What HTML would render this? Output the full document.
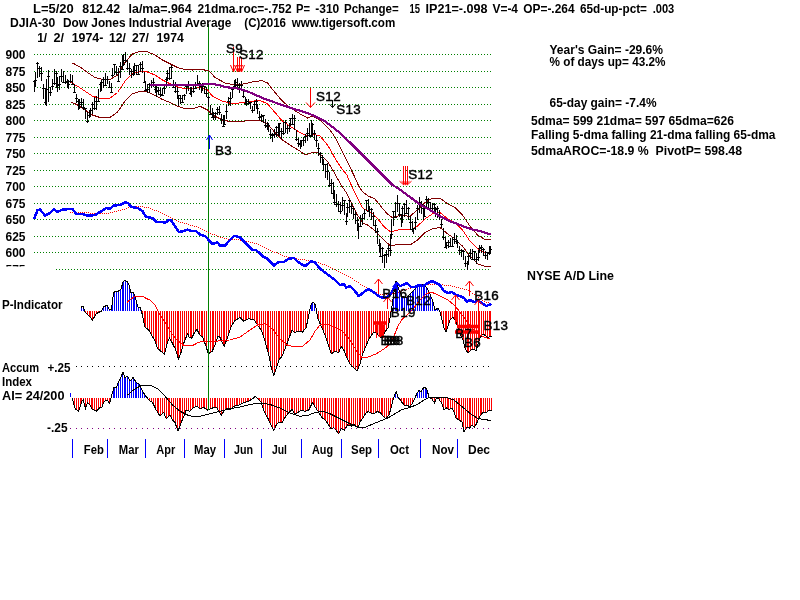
<!DOCTYPE html>
<html><head><meta charset="utf-8"><title>DJIA-30 Dow Jones Industrial Average 1974</title>
<style>
html,body{margin:0;padding:0;background:#fff;}
body{width:800px;height:600px;overflow:hidden;}
svg{display:block;}
text{font-family:"Liberation Sans",sans-serif;fill:#000;white-space:pre;}
.b{font-weight:bold;font-size:12px;}
.s{font-weight:normal;font-size:13.4px;stroke:#000;stroke-width:0.45px;letter-spacing:0.4px;}
</style></head><body>
<svg width="800" height="600" viewBox="0 0 800 600">
<rect width="800" height="600" fill="#fff"/>
<defs><clipPath id="c"><rect x="0" y="0" width="800" height="266.5"/></clipPath></defs>
<line x1="34" y1="54.5" x2="491" y2="54.5" stroke="#008000" stroke-width="1" stroke-dasharray="1 2" shape-rendering="crispEdges"/>
<line x1="34" y1="71.5" x2="491" y2="71.5" stroke="#008000" stroke-width="1" stroke-dasharray="1 2" shape-rendering="crispEdges"/>
<line x1="34" y1="87.5" x2="491" y2="87.5" stroke="#008000" stroke-width="1" stroke-dasharray="1 2" shape-rendering="crispEdges"/>
<line x1="34" y1="104.5" x2="491" y2="104.5" stroke="#008000" stroke-width="1" stroke-dasharray="1 2" shape-rendering="crispEdges"/>
<line x1="34" y1="120.5" x2="491" y2="120.5" stroke="#008000" stroke-width="1" stroke-dasharray="1 2" shape-rendering="crispEdges"/>
<line x1="34" y1="137.5" x2="491" y2="137.5" stroke="#008000" stroke-width="1" stroke-dasharray="1 2" shape-rendering="crispEdges"/>
<line x1="34" y1="153.5" x2="491" y2="153.5" stroke="#008000" stroke-width="1" stroke-dasharray="1 2" shape-rendering="crispEdges"/>
<line x1="34" y1="170.5" x2="491" y2="170.5" stroke="#008000" stroke-width="1" stroke-dasharray="1 2" shape-rendering="crispEdges"/>
<line x1="34" y1="186.5" x2="491" y2="186.5" stroke="#008000" stroke-width="1" stroke-dasharray="1 2" shape-rendering="crispEdges"/>
<line x1="34" y1="203.5" x2="491" y2="203.5" stroke="#008000" stroke-width="1" stroke-dasharray="1 2" shape-rendering="crispEdges"/>
<line x1="34" y1="219.5" x2="491" y2="219.5" stroke="#008000" stroke-width="1" stroke-dasharray="1 2" shape-rendering="crispEdges"/>
<line x1="34" y1="236.5" x2="491" y2="236.5" stroke="#008000" stroke-width="1" stroke-dasharray="1 2" shape-rendering="crispEdges"/>
<line x1="34" y1="252.5" x2="491" y2="252.5" stroke="#008000" stroke-width="1" stroke-dasharray="1 2" shape-rendering="crispEdges"/>
<line x1="56" y1="269.5" x2="491" y2="269.5" stroke="#008000" stroke-width="1" stroke-dasharray="1 2" shape-rendering="crispEdges"/>
<path d="M85.5 311.0V312.4M87.5 311.0V314.2M89.5 311.0V316.1M90.5 311.0V318.2M92.5 311.0V319.6M94.5 311.0V316.6M96.5 311.0V313.7M98.5 311.0V312.6M100.5 311.0V311.7M142.5 311.0V314.7M144.5 311.0V323.3M145.5 311.0V327.9M147.5 311.0V329.2M149.5 311.0V331.5M151.5 311.0V335.0M153.5 311.0V338.1M155.5 311.0V341.1M156.5 311.0V347.1M158.5 311.0V349.5M160.5 311.0V351.0M162.5 311.0V352.6M164.5 311.0V354.1M166.5 311.0V347.2M167.5 311.0V341.2M169.5 311.0V338.9M171.5 311.0V342.0M173.5 311.0V345.3M175.5 311.0V349.0M177.5 311.0V354.5M178.5 311.0V357.8M180.5 311.0V353.0M182.5 311.0V347.1M184.5 311.0V341.0M186.5 311.0V336.7M188.5 311.0V335.0M190.5 311.0V337.6M191.5 311.0V337.8M193.5 311.0V334.2M195.5 311.0V331.3M197.5 311.0V330.2M199.5 311.0V333.9M201.5 311.0V335.9M202.5 311.0V337.4M204.5 311.0V342.5M206.5 311.0V348.0M208.5 311.0V353.7M210.5 311.0V352.6M212.5 311.0V351.5M213.5 311.0V347.6M215.5 311.0V342.8M217.5 311.0V337.2M219.5 311.0V336.9M221.5 311.0V339.9M223.5 311.0V343.7M224.5 311.0V344.6M226.5 311.0V339.6M228.5 311.0V334.4M230.5 311.0V328.9M232.5 311.0V324.8M234.5 311.0V322.0M235.5 311.0V320.0M237.5 311.0V318.9M239.5 311.0V317.8M241.5 311.0V318.9M243.5 311.0V320.7M245.5 311.0V320.6M246.5 311.0V319.7M248.5 311.0V318.8M250.5 311.0V319.0M252.5 311.0V319.3M254.5 311.0V320.2M256.5 311.0V322.9M257.5 311.0V325.5M259.5 311.0V328.0M261.5 311.0V331.0M263.5 311.0V336.5M265.5 311.0V342.2M267.5 311.0V348.9M268.5 311.0V355.9M270.5 311.0V365.0M272.5 311.0V371.5M274.5 311.0V373.3M276.5 311.0V368.7M278.5 311.0V362.3M279.5 311.0V358.6M281.5 311.0V356.5M283.5 311.0V352.2M285.5 311.0V347.6M287.5 311.0V342.7M289.5 311.0V337.8M290.5 311.0V332.8M292.5 311.0V330.8M294.5 311.0V332.5M296.5 311.0V331.9M298.5 311.0V331.4M300.5 311.0V331.5M301.5 311.0V331.9M303.5 311.0V330.4M305.5 311.0V328.2M307.5 311.0V321.4M309.5 311.0V312.5M316.5 311.0V312.1M318.5 311.0V319.8M320.5 311.0V324.1M322.5 311.0V328.3M323.5 311.0V332.6M325.5 311.0V337.4M327.5 311.0V342.7M329.5 311.0V348.3M331.5 311.0V353.7M333.5 311.0V352.5M334.5 311.0V351.3M336.5 311.0V351.9M338.5 311.0V352.5M340.5 311.0V348.1M342.5 311.0V347.9M344.5 311.0V351.1M346.5 311.0V355.6M347.5 311.0V359.4M349.5 311.0V363.1M351.5 311.0V365.3M353.5 311.0V367.1M355.5 311.0V369.2M357.5 311.0V371.2M358.5 311.0V366.8M360.5 311.0V361.2M362.5 311.0V354.6M364.5 311.0V349.7M366.5 311.0V345.3M368.5 311.0V341.2M369.5 311.0V337.7M371.5 311.0V334.9M373.5 311.0V332.8M375.5 311.0V332.2M377.5 311.0V333.6M379.5 311.0V336.0M380.5 311.0V337.3M382.5 311.0V336.6M384.5 311.0V332.9M386.5 311.0V330.2M388.5 311.0V326.9M390.5 311.0V317.7M441.5 311.0V317.8M443.5 311.0V325.1M445.5 311.0V330.2M446.5 311.0V329.1M448.5 311.0V323.6M450.5 311.0V319.4M452.5 311.0V317.5M454.5 311.0V319.2M456.5 311.0V322.4M457.5 311.0V327.9M459.5 311.0V333.4M461.5 311.0V337.3M463.5 311.0V341.9M465.5 311.0V348.5M467.5 311.0V351.6M468.5 311.0V352.0M470.5 311.0V350.2M472.5 311.0V349.5M474.5 311.0V349.5M476.5 311.0V349.9M478.5 311.0V343.5M479.5 311.0V338.0M481.5 311.0V335.6M483.5 311.0V334.4M485.5 311.0V335.7M487.5 311.0V337.3M489.5 311.0V336.8M490.5 311.0V336.7" stroke="#ff0000" stroke-width="1" fill="none" shape-rendering="crispEdges"/><path d="M81.5 311.0V306.9M83.5 311.0V307.2M101.5 311.0V310.3M103.5 311.0V307.0M105.5 311.0V306.0M107.5 311.0V306.2M109.5 311.0V309.0M111.5 311.0V309.4M112.5 311.0V297.8M114.5 311.0V291.7M116.5 311.0V291.5M118.5 311.0V291.1M120.5 311.0V289.6M122.5 311.0V285.2M123.5 311.0V281.1M125.5 311.0V280.6M127.5 311.0V282.6M129.5 311.0V286.8M131.5 311.0V292.9M133.5 311.0V292.6M134.5 311.0V296.8M136.5 311.0V302.9M138.5 311.0V307.1M140.5 311.0V307.6M311.5 311.0V304.3M312.5 311.0V302.0M314.5 311.0V304.2M391.5 311.0V306.7M393.5 311.0V293.9M395.5 311.0V283.4M397.5 311.0V285.2M399.5 311.0V290.5M401.5 311.0V294.1M402.5 311.0V296.5M404.5 311.0V297.4M406.5 311.0V297.4M408.5 311.0V295.6M410.5 311.0V293.8M412.5 311.0V291.9M413.5 311.0V290.1M415.5 311.0V288.2M417.5 311.0V286.4M419.5 311.0V285.3M421.5 311.0V284.5M423.5 311.0V284.8M424.5 311.0V285.9M426.5 311.0V287.8M428.5 311.0V291.2M430.5 311.0V295.2M432.5 311.0V300.1M434.5 311.0V306.4M435.5 311.0V309.4M437.5 311.0V308.1" stroke="#0000ff" stroke-width="1" fill="none" shape-rendering="crispEdges"/>
<polyline points="81.0,308.0 82.0,306.5 83.5,307.0 85.0,312.0 89.0,316.0 92.5,320.0 96.5,313.5 101.5,311.0 104.0,306.5 107.0,305.5 109.0,309.0 111.5,309.5 113.5,293.0 115.0,291.5 118.0,291.5 121.0,289.0 123.0,282.0 125.0,280.0 127.0,281.5 129.0,285.0 131.0,293.0 133.5,292.5 135.0,297.0 138.0,307.0 140.5,307.6 142.7,316.3 144.9,327.1 148.7,329.8 151.9,335.8 155.2,341.2 157.3,348.2 160.6,351.0 164.4,354.2 167.1,343.4 169.3,338.0 172.5,343.4 175.8,349.9 178.5,359.1 181.2,352.0 184.4,341.2 187.7,333.6 188.8,336.9 191.5,338.5 194.2,333.1 196.9,329.3 199.6,334.7 202.9,337.4 206.1,346.6 208.3,353.7 212.1,351.5 214.8,345.5 218.0,335.8 220.0,337.4 221.2,340.0 224.2,346.2 227.5,337.5 231.2,326.2 235.0,320.5 240.0,317.5 243.8,321.2 248.8,318.8 253.8,319.5 257.5,325.0 261.2,330.0 265.0,341.2 268.8,355.0 271.2,367.5 273.8,375.0 276.2,368.8 278.8,360.0 282.0,356.2 285.0,348.8 288.8,338.8 292.0,330.0 294.5,332.5 298.8,331.2 302.5,332.0 306.2,327.5 308.8,315.0 311.2,303.8 313.0,302.0 315.5,305.0 317.5,317.5 321.2,326.2 325.0,335.0 328.0,343.8 331.2,353.8 335.0,351.2 338.8,352.5 341.2,346.2 343.8,350.0 346.2,356.2 350.0,363.8 353.8,367.5 357.0,371.2 360.0,364.0 362.0,356.0 365.0,348.0 369.0,339.0 373.0,333.0 376.0,332.0 379.0,336.0 382.0,338.0 385.0,332.0 388.0,328.0 390.0,318.0 392.0,306.0 394.0,292.0 396.0,281.0 399.0,290.0 402.0,296.0 406.0,298.0 410.0,294.0 414.0,290.0 418.0,286.0 421.0,284.5 424.0,285.0 427.0,288.0 430.0,294.0 433.0,302.0 435.0,310.0 438.0,308.0 440.0,312.0 442.0,320.0 444.0,328.0 446.0,332.0 448.0,326.0 450.0,320.0 453.0,317.0 456.0,322.0 458.0,328.0 460.0,334.0 463.0,340.0 465.0,348.0 468.0,353.0 471.0,350.0 474.0,349.0 476.0,351.0 478.0,344.0 480.0,338.0 483.0,334.0 486.0,336.0 488.0,338.0 490.0,336.0 491.5,337.0" fill="none" stroke="#000" stroke-width="1"  shape-rendering="crispEdges"/>
<polyline points="127.0,302.5 131.0,299.0 135.0,296.5 143.5,296.3 146.0,298.5 149.0,299.5 149.8,300.0 155.2,305.4 157.9,310.8 161.7,317.3 166.0,323.8 170.4,331.4 175.8,339.0 181.2,343.4 184.4,345.5 193.1,345.3 197.5,342.8 202.9,341.0 210.5,341.7 215.9,341.7 220.0,340.1 230.0,340.0 240.0,337.0 250.0,330.0 257.5,325.0 265.0,323.8 272.5,328.8 280.0,338.8 287.5,345.0 295.0,347.0 302.5,346.2 310.0,340.0 315.0,331.2 320.0,325.0 327.5,324.2 335.0,327.0 342.5,331.2 350.0,340.0 357.5,352.5 362.5,358.0 368.0,357.0 376.0,354.0 384.0,349.0 390.0,344.0 394.0,336.0 398.0,326.0 402.0,319.5 408.0,314.0 414.0,308.0 420.0,300.0 426.0,294.0 431.0,292.0 436.0,294.0 442.0,297.0 448.0,300.0 454.0,305.0 460.0,312.0 466.0,320.0 472.0,328.0 478.0,334.0 484.0,337.0 490.0,339.0" fill="none" stroke="#ff0000" stroke-width="1"  shape-rendering="crispEdges"/>
<path d="M72.5 397.5V399.7M74.5 397.5V406.4M76.5 397.5V409.7M78.5 397.5V411.1M80.5 397.5V407.2M81.5 397.5V401.1M83.5 397.5V401.7M85.5 397.5V408.1M87.5 397.5V403.0M89.5 397.5V404.2M91.5 397.5V407.0M92.5 397.5V409.4M94.5 397.5V410.3M96.5 397.5V411.1M98.5 397.5V408.9M100.5 397.5V407.8M102.5 397.5V406.9M103.5 397.5V402.0M105.5 397.5V401.0M107.5 397.5V400.8M109.5 397.5V403.2M147.5 397.5V398.9M149.5 397.5V400.7M151.5 397.5V401.9M153.5 397.5V404.4M155.5 397.5V408.1M157.5 397.5V411.5M158.5 397.5V414.5M160.5 397.5V415.4M162.5 397.5V413.6M164.5 397.5V414.3M166.5 397.5V418.7M168.5 397.5V416.9M169.5 397.5V415.0M171.5 397.5V418.6M173.5 397.5V421.2M175.5 397.5V423.9M177.5 397.5V429.3M179.5 397.5V428.1M180.5 397.5V423.2M182.5 397.5V418.6M184.5 397.5V414.0M186.5 397.5V410.1M188.5 397.5V410.7M190.5 397.5V411.1M192.5 397.5V409.2M193.5 397.5V407.5M195.5 397.5V406.9M197.5 397.5V406.3M199.5 397.5V408.1M201.5 397.5V408.4M203.5 397.5V407.7M204.5 397.5V408.2M206.5 397.5V409.5M208.5 397.5V409.6M210.5 397.5V408.9M212.5 397.5V408.1M214.5 397.5V407.6M215.5 397.5V407.1M217.5 397.5V409.5M219.5 397.5V412.6M221.5 397.5V415.3M223.5 397.5V412.2M225.5 397.5V410.0M226.5 397.5V408.1M228.5 397.5V409.1M230.5 397.5V409.5M232.5 397.5V407.6M234.5 397.5V406.1M236.5 397.5V405.7M237.5 397.5V405.2M239.5 397.5V404.5M241.5 397.5V403.6M243.5 397.5V402.7M245.5 397.5V402.1M247.5 397.5V401.7M248.5 397.5V401.2M250.5 397.5V399.9M252.5 397.5V398.7M258.5 397.5V398.8M259.5 397.5V401.0M261.5 397.5V404.0M263.5 397.5V409.7M265.5 397.5V414.0M267.5 397.5V417.1M269.5 397.5V420.8M270.5 397.5V424.6M272.5 397.5V428.4M274.5 397.5V428.6M276.5 397.5V424.8M278.5 397.5V423.0M280.5 397.5V422.7M281.5 397.5V423.0M283.5 397.5V419.8M285.5 397.5V416.7M287.5 397.5V414.2M289.5 397.5V412.0M291.5 397.5V410.3M292.5 397.5V411.1M294.5 397.5V413.6M296.5 397.5V413.0M298.5 397.5V412.2M300.5 397.5V410.7M302.5 397.5V410.3M303.5 397.5V410.9M305.5 397.5V411.0M307.5 397.5V410.4M309.5 397.5V408.6M311.5 397.5V404.9M313.5 397.5V403.6M314.5 397.5V406.6M316.5 397.5V409.5M318.5 397.5V412.3M320.5 397.5V415.2M322.5 397.5V417.8M324.5 397.5V419.3M325.5 397.5V421.2M327.5 397.5V423.5M329.5 397.5V426.3M331.5 397.5V428.6M333.5 397.5V427.7M335.5 397.5V429.2M336.5 397.5V431.5M338.5 397.5V433.6M340.5 397.5V429.9M342.5 397.5V429.2M344.5 397.5V429.9M346.5 397.5V427.2M348.5 397.5V425.2M349.5 397.5V425.8M351.5 397.5V426.0M353.5 397.5V425.0M355.5 397.5V425.3M357.5 397.5V427.2M359.5 397.5V424.9M360.5 397.5V420.9M362.5 397.5V418.4M364.5 397.5V415.5M366.5 397.5V412.7M368.5 397.5V411.7M370.5 397.5V412.5M371.5 397.5V413.2M373.5 397.5V413.5M375.5 397.5V412.6M377.5 397.5V411.7M379.5 397.5V412.2M381.5 397.5V413.7M382.5 397.5V415.9M384.5 397.5V417.7M386.5 397.5V418.3M388.5 397.5V415.8M390.5 397.5V410.7M392.5 397.5V403.8M399.5 397.5V398.9M401.5 397.5V401.3M403.5 397.5V403.8M404.5 397.5V405.0M406.5 397.5V405.0M408.5 397.5V406.0M410.5 397.5V406.3M412.5 397.5V403.3M414.5 397.5V399.8M430.5 397.5V398.1M432.5 397.5V399.7M434.5 397.5V402.8M436.5 397.5V398.7M437.5 397.5V398.6M439.5 397.5V400.3M441.5 397.5V403.4M443.5 397.5V408.3M445.5 397.5V408.9M447.5 397.5V408.4M448.5 397.5V409.6M450.5 397.5V408.6M452.5 397.5V409.2M454.5 397.5V413.4M456.5 397.5V418.2M458.5 397.5V419.4M459.5 397.5V420.6M461.5 397.5V421.9M463.5 397.5V430.2M465.5 397.5V429.6M467.5 397.5V427.1M469.5 397.5V427.8M470.5 397.5V426.3M472.5 397.5V425.7M474.5 397.5V426.6M476.5 397.5V423.8M478.5 397.5V419.4M480.5 397.5V415.8M481.5 397.5V413.6M483.5 397.5V412.6M485.5 397.5V412.9M487.5 397.5V411.5M489.5 397.5V410.0M491.5 397.5V410.0" stroke="#ff0000" stroke-width="1" fill="none" shape-rendering="crispEdges"/><path d="M113.5 397.5V390.5M114.5 397.5V387.4M116.5 397.5V386.3M118.5 397.5V382.0M120.5 397.5V377.9M122.5 397.5V374.0M124.5 397.5V375.2M125.5 397.5V377.0M127.5 397.5V376.8M129.5 397.5V380.5M131.5 397.5V379.5M133.5 397.5V377.9M135.5 397.5V380.7M136.5 397.5V382.8M138.5 397.5V383.8M140.5 397.5V387.5M142.5 397.5V391.1M144.5 397.5V393.9M146.5 397.5V396.5M256.5 397.5V397.0M395.5 397.5V393.0M397.5 397.5V395.6M415.5 397.5V395.7M417.5 397.5V392.0M419.5 397.5V390.8M421.5 397.5V390.9M423.5 397.5V388.2M425.5 397.5V387.1M426.5 397.5V389.9M428.5 397.5V396.2" stroke="#0000ff" stroke-width="1" fill="none" shape-rendering="crispEdges"/>
<polyline points="72.4,398.5 73.9,404.5 75.4,409.0 78.4,411.2 80.2,406.8 82.1,400.4 83.2,400.0 85.5,408.2 87.4,403.0 89.6,404.5 92.2,409.0 96.4,411.2 99.0,408.2 102.0,407.1 104.2,401.1 108.0,400.8 109.5,403.4 111.0,398.1 112.5,392.5 114.0,387.2 116.2,387.5 120.0,378.8 123.0,372.5 125.0,377.5 127.5,376.2 130.0,381.2 133.0,377.5 136.2,382.5 138.8,383.8 142.5,391.2 145.0,395.0 148.8,400.0 152.5,402.5 156.2,410.0 160.0,416.2 163.8,412.5 166.2,418.8 170.0,415.0 172.5,420.0 175.0,422.5 178.0,431.2 181.2,422.5 183.8,416.2 186.2,410.0 190.0,411.2 193.8,407.5 197.5,406.2 200.0,408.8 203.8,407.5 207.5,410.0 212.5,408.0 216.2,407.0 218.8,411.2 221.2,415.5 223.8,411.2 227.0,408.0 230.0,410.0 233.8,406.2 238.8,405.0 243.8,402.5 248.8,401.2 252.5,398.8 255.5,396.2 258.0,398.8 261.2,402.5 264.5,412.5 267.5,417.5 270.5,423.8 273.8,430.5 276.2,425.0 278.8,422.5 282.0,423.0 285.0,417.5 288.8,412.5 292.0,409.5 294.5,413.8 298.0,412.5 301.2,410.0 305.0,411.2 308.8,410.0 312.5,402.5 315.5,407.5 318.8,412.5 322.0,417.5 325.0,420.0 328.0,423.8 331.2,428.8 333.8,427.5 336.2,430.5 338.8,433.8 341.2,428.8 344.5,430.0 347.5,425.0 351.2,426.2 354.5,424.5 358.0,428.0 360.0,422.0 363.0,418.0 366.0,413.0 368.0,411.6 371.0,413.0 374.0,413.6 377.0,411.6 380.0,412.4 383.0,416.0 386.0,419.0 389.0,415.0 391.0,408.0 393.0,400.0 395.0,394.0 396.4,392.0 398.0,397.0 401.0,401.0 404.0,405.0 407.0,405.0 410.0,407.0 412.4,403.0 415.0,398.0 417.0,393.0 419.0,390.4 421.0,391.6 423.0,388.4 425.0,387.0 427.0,390.0 429.0,397.0 432.0,399.0 434.4,403.0 436.4,398.0 439.0,399.0 442.0,404.0 444.0,410.0 446.4,408.0 449.0,409.6 452.0,408.0 454.0,412.0 456.0,418.0 459.0,420.0 462.0,422.0 464.0,432.0 467.0,427.0 469.6,428.0 472.0,425.0 474.4,427.0 476.4,424.0 478.0,420.0 480.0,416.0 483.0,412.4 486.0,413.0 489.0,410.0 491.6,410.0" fill="none" stroke="#000" stroke-width="1"  shape-rendering="crispEdges"/>
<polyline points="127.5,395.0 135.0,388.8 142.5,385.0 150.0,385.0 157.5,388.8 165.0,396.2 172.5,405.0 180.0,411.2 187.5,415.0 193.8,416.8 200.0,416.2 210.0,413.8 220.0,411.2 230.0,408.8 240.0,407.0 250.0,404.5 260.0,403.0 270.0,404.5 280.0,408.0 290.0,413.0 300.0,416.2 307.5,415.5 315.0,412.5 322.5,411.2 330.0,413.8 337.5,417.5 345.0,421.2 352.5,425.0 360.0,428.0 366.0,427.0 372.0,424.4 380.0,421.0 388.0,418.0 396.0,413.0 402.0,409.6 410.0,407.6 418.0,404.0 424.0,400.0 429.0,397.6 436.0,397.6 442.0,397.0 448.0,398.0 454.0,400.0 460.0,405.0 466.0,410.0 472.0,415.0 478.0,418.4 484.0,419.6 491.0,420.4" fill="none" stroke="#000" stroke-width="1"  shape-rendering="crispEdges"/>
<line x1="208.5" y1="24" x2="208.5" y2="410" stroke="#008000" stroke-width="1" shape-rendering="crispEdges"/>
<path d="M76 366.5h1M81 366.5h1M87 366.5h1M92 366.5h1M98 366.5h1M103 366.5h1M109 366.5h1M114 366.5h1M120 366.5h1M125 366.5h1M131 366.5h1M136 366.5h1M142 366.5h1M147 366.5h1M153 366.5h1M158 366.5h1M164 366.5h1M169 366.5h1M175 366.5h1M180 366.5h1M186 366.5h1M191 366.5h1M197 366.5h1M202 366.5h1M208 366.5h1M213 366.5h1M219 366.5h1M224 366.5h1M230 366.5h1M235 366.5h1M241 366.5h1M246 366.5h1M252 366.5h1M257 366.5h1M263 366.5h1M268 366.5h1M274 366.5h1M279 366.5h1M285 366.5h1M290 366.5h1M296 366.5h1M301 366.5h1M307 366.5h1M312 366.5h1M318 366.5h1M323 366.5h1M329 366.5h1M334 366.5h1M340 366.5h1M345 366.5h1M351 366.5h1M356 366.5h1M362 366.5h1M367 366.5h1M373 366.5h1M378 366.5h1M384 366.5h1M389 366.5h1M395 366.5h1M400 366.5h1M406 366.5h1M411 366.5h1M417 366.5h1M422 366.5h1M428 366.5h1M433 366.5h1M439 366.5h1M444 366.5h1M450 366.5h1M455 366.5h1M461 366.5h1M466 366.5h1M472 366.5h1M477 366.5h1M483 366.5h1M488 366.5h1" stroke="#000" stroke-width="1" fill="none" shape-rendering="crispEdges"/>
<path d="M70 428.5h1M76 428.5h1M81 428.5h1M87 428.5h1M92 428.5h1M98 428.5h1M103 428.5h1M109 428.5h1M114 428.5h1M120 428.5h1M125 428.5h1M131 428.5h1M136 428.5h1M142 428.5h1M147 428.5h1M153 428.5h1M158 428.5h1M164 428.5h1M169 428.5h1M175 428.5h1M180 428.5h1M186 428.5h1M191 428.5h1M197 428.5h1M202 428.5h1M208 428.5h1M213 428.5h1M219 428.5h1M224 428.5h1M230 428.5h1M235 428.5h1M241 428.5h1M246 428.5h1M252 428.5h1M257 428.5h1M263 428.5h1M268 428.5h1M274 428.5h1M279 428.5h1M285 428.5h1M290 428.5h1M296 428.5h1M301 428.5h1M307 428.5h1M312 428.5h1M318 428.5h1M323 428.5h1M329 428.5h1M334 428.5h1M340 428.5h1M345 428.5h1M351 428.5h1M356 428.5h1M362 428.5h1M367 428.5h1M373 428.5h1M378 428.5h1M384 428.5h1M389 428.5h1M395 428.5h1M400 428.5h1M406 428.5h1M411 428.5h1M417 428.5h1M422 428.5h1M428 428.5h1M433 428.5h1M439 428.5h1M444 428.5h1M450 428.5h1M455 428.5h1M461 428.5h1M466 428.5h1M472 428.5h1M477 428.5h1M483 428.5h1M488 428.5h1" stroke="#800080" stroke-width="1" fill="none" shape-rendering="crispEdges"/>
<line x1="70.5" y1="393" x2="70.5" y2="397" stroke="#0000ff" stroke-width="1" shape-rendering="crispEdges"/>
<polyline points="72.5,63.0 80.0,67.0 87.5,72.5 95.0,77.5 102.5,79.5 110.0,79.5 117.5,75.0 125.0,62.5 132.5,53.8 140.0,51.2 147.5,51.8 155.0,55.0 162.5,60.0 170.0,63.8 177.5,67.5 185.0,69.5 192.5,70.0 200.0,69.5 208.8,70.5 215.0,77.5 225.0,83.0 235.0,85.0 245.0,83.8 255.0,81.2 262.5,80.8 267.5,83.0 275.0,92.5 282.5,101.2 290.0,107.5 300.0,113.8 307.5,118.0 312.5,116.2 320.0,120.0 327.5,127.5 330.0,130.0 334.7,136.7 342.7,152.7 348.0,163.3 353.3,174.0 358.7,186.0 362.7,192.0 368.0,196.0 374.7,198.7 380.0,205.3 386.7,213.3 392.0,217.3 400.0,215.5 410.0,216.2 417.5,210.0 425.0,202.5 432.5,198.0 440.0,198.0 447.5,203.8 455.0,207.5 462.5,215.0 470.0,226.2 477.5,235.0 485.0,239.5 491.0,240.0" fill="none" stroke="#800000" stroke-width="1"  shape-rendering="crispEdges"/>
<polyline points="71.2,102.0 77.5,105.0 85.0,110.0 92.5,115.0 100.0,117.5 110.0,117.5 117.5,112.0 125.0,101.2 132.5,93.8 140.0,91.2 147.5,92.0 155.0,95.5 162.5,99.5 170.0,102.5 177.5,106.2 185.0,108.8 192.5,108.8 200.0,106.2 207.5,110.0 212.5,115.0 222.5,120.0 232.5,122.0 242.5,121.2 252.5,120.5 260.0,120.0 267.5,123.8 275.0,132.5 282.5,140.0 290.0,145.0 300.0,151.2 305.0,155.0 312.0,152.7 317.3,152.7 322.7,156.7 328.0,162.0 333.3,171.0 336.0,176.0 341.3,185.3 346.7,193.3 352.0,204.0 357.3,214.7 362.7,222.7 368.0,225.3 373.3,229.3 378.7,234.7 384.0,240.0 390.0,245.5 400.0,244.5 410.0,245.0 417.5,240.0 425.0,232.5 432.5,228.8 440.0,227.5 447.5,233.8 455.0,238.8 462.5,246.2 470.0,256.2 477.5,263.8 485.0,266.2 491.0,267.0" fill="none" stroke="#800000" stroke-width="1"  shape-rendering="crispEdges"/>
<polyline points="70.0,82.0 77.5,86.2 85.0,91.2 92.5,96.2 100.0,98.2 110.0,98.2 117.5,92.5 125.0,81.2 132.5,73.8 140.0,71.2 147.5,72.0 155.0,75.0 162.5,80.0 170.0,83.8 177.5,87.0 185.0,88.8 192.5,88.8 200.0,87.5 207.5,90.0 212.5,96.2 222.5,101.2 232.5,103.8 242.5,102.5 252.5,101.2 260.0,100.5 267.5,103.8 275.0,112.5 282.5,121.2 290.0,126.2 300.0,132.5 307.5,136.2 313.8,134.5 320.0,136.0 327.5,145.0 332.0,152.7 336.0,160.0 341.3,168.0 346.7,174.7 352.0,186.7 357.3,197.3 362.7,208.0 368.0,211.3 373.3,214.0 378.7,220.0 384.0,226.7 390.7,232.0 400.0,229.5 410.0,230.0 417.5,226.2 425.0,218.8 432.5,213.8 440.0,212.5 447.5,218.8 455.0,222.5 462.5,230.0 470.0,241.2 477.5,248.8 485.0,252.5 491.0,253.8" fill="none" stroke="#ff0000" stroke-width="1"  shape-rendering="crispEdges"/>
<path d="M34.5 80.4V92.2M33.0 81.5h3M35.5 72.4V86.7M34.0 80.5h3M37.5 61.6V78.4M36.0 63.5h3M39.5 65.5V76.7M38.0 68.5h3M41.5 67.3V81.2M40.0 73.5h3M43.5 84.1V99.0M42.0 88.5h3M45.5 88.0V105.0M44.0 102.5h3M46.5 78.5V105.9M45.0 89.5h3M48.5 69.9V101.9M47.0 76.5h3M50.5 87.1V95.9M49.0 92.5h3M52.5 78.9V89.7M51.0 86.5h3M54.5 69.1V84.5M53.0 83.5h3M56.5 70.9V87.5M55.0 73.5h3M57.5 77.4V92.4M56.0 85.5h3M59.5 76.0V90.3M58.0 84.5h3M61.5 69.0V81.5M60.0 76.5h3M63.5 70.5V82.8M62.0 82.5h3M65.5 74.8V84.3M64.0 82.5h3M67.5 78.6V87.8M66.0 81.5h3M68.5 79.9V89.1M67.0 84.5h3M70.5 73.5V82.8M69.0 81.5h3M72.5 74.9V84.9M71.0 84.5h3M74.5 83.6V92.6M73.0 92.5h3M76.5 93.7V102.8M75.0 98.5h3M78.5 99.3V109.9M77.0 101.5h3M79.5 99.0V109.1M78.0 104.5h3M81.5 98.2V107.6M80.0 102.5h3M83.5 99.2V110.3M82.0 107.5h3M85.5 107.9V118.6M84.0 108.5h3M87.5 112.3V123.1M86.0 121.5h3M89.5 110.3V118.3M88.0 115.5h3M90.5 108.2V117.4M89.0 110.5h3M92.5 102.1V113.5M91.0 104.5h3M94.5 96.6V109.5M93.0 108.5h3M96.5 95.7V110.3M95.0 101.5h3M98.5 89.3V101.1M97.0 101.5h3M100.5 83.1V92.2M99.0 84.5h3M101.5 80.1V91.3M100.0 82.5h3M103.5 77.4V88.3M102.0 79.5h3M105.5 73.4V84.9M104.0 85.5h3M107.5 76.0V84.2M106.0 79.5h3M109.5 80.5V88.3M108.0 87.5h3M111.5 82.5V92.1M110.0 92.5h3M112.5 67.5V77.0M111.0 75.5h3M114.5 64.1V74.5M113.0 64.5h3M116.5 66.0V74.7M115.0 72.5h3M118.5 68.2V81.5M117.0 81.5h3M120.5 61.8V78.2M119.0 66.5h3M122.5 55.1V70.0M121.0 69.5h3M123.5 53.9V66.4M122.0 64.5h3M125.5 51.9V62.7M124.0 60.5h3M127.5 59.8V70.1M126.0 68.5h3M129.5 63.2V74.5M128.0 68.5h3M131.5 69.0V77.9M130.0 71.5h3M133.5 66.4V76.4M132.0 74.5h3M134.5 62.9V73.7M133.0 70.5h3M136.5 64.6V74.9M135.0 65.5h3M138.5 64.8V74.2M137.0 74.5h3M140.5 61.7V72.1M139.0 64.5h3M142.5 61.1V73.0M141.0 68.5h3M144.5 72.1V83.4M143.0 82.5h3M145.5 80.7V91.1M144.0 90.5h3M147.5 83.8V92.8M146.0 89.5h3M149.5 82.6V93.0M148.0 84.5h3M151.5 79.8V87.8M150.0 84.5h3M153.5 77.5V86.6M152.0 82.5h3M155.5 84.2V93.0M154.0 89.5h3M156.5 85.6V96.5M155.0 91.5h3M158.5 86.6V95.2M157.0 90.5h3M160.5 88.4V96.7M159.0 94.5h3M162.5 87.7V95.7M161.0 95.5h3M164.5 85.9V93.6M163.0 88.5h3M166.5 77.2V87.0M165.0 79.5h3M167.5 70.0V80.7M166.0 73.5h3M169.5 67.4V79.7M168.0 78.5h3M171.5 65.1V79.0M170.0 67.5h3M173.5 80.2V86.9M172.0 87.5h3M175.5 82.3V93.1M174.0 91.5h3M177.5 87.0V98.9M176.0 91.5h3M178.5 95.3V105.7M177.0 95.5h3M180.5 95.0V103.6M179.0 98.5h3M182.5 95.2V102.1M181.0 102.5h3M184.5 93.6V99.9M183.0 95.5h3M186.5 84.8V93.8M185.0 86.5h3M188.5 81.1V91.4M187.0 84.5h3M190.5 87.1V95.3M189.0 93.5h3M191.5 86.7V97.0M190.0 91.5h3M193.5 83.5V93.2M192.0 91.5h3M195.5 81.5V89.3M194.0 88.5h3M197.5 74.6V85.8M196.0 85.5h3M199.5 80.5V89.7M198.0 83.5h3M201.5 83.9V92.9M200.0 86.5h3M202.5 83.3V90.7M201.0 85.5h3M204.5 85.9V94.1M203.0 86.5h3M206.5 86.8V97.4M205.0 93.5h3M208.5 96.3V107.2M207.0 97.5h3M210.5 104.9V115.2M209.0 114.5h3M212.5 107.7V117.0M211.0 117.5h3M213.5 112.2V120.4M212.0 117.5h3M215.5 112.2V119.9M214.0 113.5h3M217.5 107.4V115.0M216.0 109.5h3M219.5 106.2V115.0M218.0 112.5h3M221.5 114.2V124.0M220.0 119.5h3M223.5 115.2V126.0M222.0 126.5h3M224.5 114.5V124.0M223.0 124.5h3M226.5 105.4V118.9M225.0 111.5h3M228.5 96.6V105.9M227.0 101.5h3M230.5 92.4V106.2M229.0 98.5h3M232.5 86.5V97.9M231.0 89.5h3M234.5 79.5V89.0M233.0 86.5h3M235.5 78.6V88.2M234.0 82.5h3M237.5 78.1V88.7M236.0 85.5h3M239.5 82.5V93.2M238.0 89.5h3M241.5 81.0V89.2M240.0 85.5h3M243.5 89.0V97.6M242.0 96.5h3M245.5 96.9V105.0M244.0 103.5h3M246.5 98.6V106.2M245.0 101.5h3M248.5 99.0V105.4M247.0 103.5h3M250.5 102.0V108.6M249.0 102.5h3M252.5 105.6V113.2M251.0 110.5h3M254.5 101.4V111.0M253.0 104.5h3M256.5 99.1V109.3M255.0 101.5h3M257.5 104.3V113.8M256.0 108.5h3M259.5 110.8V120.4M258.0 117.5h3M261.5 113.9V122.0M260.0 116.5h3M263.5 114.7V123.1M262.0 115.5h3M265.5 119.2V127.9M264.0 125.5h3M267.5 122.2V129.8M266.0 126.5h3M268.5 122.9V131.5M267.0 125.5h3M270.5 129.3V139.0M269.0 134.5h3M272.5 132.8V141.7M271.0 135.5h3M274.5 129.1V138.3M273.0 134.5h3M276.5 125.5V136.5M275.0 127.5h3M278.5 123.3V136.2M277.0 132.5h3M279.5 122.6V135.5M278.0 123.5h3M281.5 127.8V138.7M280.0 131.5h3M283.5 122.2V135.3M282.0 133.5h3M285.5 120.2V132.9M284.0 122.5h3M287.5 124.9V134.2M286.0 128.5h3M289.5 122.5V131.6M288.0 128.5h3M290.5 117.7V126.0M289.0 118.5h3M292.5 113.9V124.8M291.0 124.5h3M294.5 115.3V130.2M293.0 118.5h3M296.5 129.7V140.7M295.0 139.5h3M298.5 138.0V146.9M297.0 143.5h3M300.5 139.8V148.5M299.0 144.5h3M301.5 139.5V147.2M300.0 140.5h3M303.5 137.2V145.6M302.0 140.5h3M305.5 133.7V142.5M304.0 136.5h3M307.5 128.3V140.8M306.0 133.5h3M309.5 123.2V136.6M308.0 135.5h3M311.5 120.1V135.6M310.0 136.5h3M312.5 122.8V136.2M311.0 124.5h3M314.5 130.0V139.8M313.0 133.5h3M316.5 135.4V147.4M315.0 140.5h3M318.5 143.4V155.8M317.0 148.5h3M320.5 152.0V162.6M319.0 153.5h3M322.5 154.8V164.9M321.0 157.5h3M323.5 159.0V170.5M322.0 164.5h3M325.5 163.6V177.8M324.0 164.5h3M327.5 163.0V180.3M326.0 171.5h3M329.5 172.4V186.5M328.0 185.5h3M331.5 179.2V193.6M330.0 183.5h3M333.5 182.0V198.8M332.0 193.5h3M334.5 190.2V205.4M333.0 202.5h3M336.5 193.9V206.6M335.0 204.5h3M338.5 201.1V212.2M337.0 204.5h3M340.5 202.2V214.4M339.0 211.5h3M342.5 196.5V211.0M341.0 205.5h3M344.5 199.8V215.4M343.0 200.5h3M346.5 213.0V224.9M345.0 221.5h3M347.5 203.3V217.4M346.0 207.5h3M349.5 200.0V213.4M348.0 200.5h3M351.5 202.8V213.7M350.0 206.5h3M353.5 208.1V218.9M352.0 208.5h3M355.5 211.2V223.5M354.0 214.5h3M357.5 217.1V230.6M356.0 220.5h3M358.5 222.7V239.1M357.0 226.5h3M360.5 214.8V226.7M359.0 226.5h3M362.5 213.8V225.0M361.0 218.5h3M364.5 208.5V219.0M363.0 213.5h3M366.5 199.7V210.6M365.0 200.5h3M368.5 199.3V212.4M367.0 211.5h3M369.5 205.8V217.0M368.0 209.5h3M371.5 208.3V220.4M370.0 209.5h3M373.5 211.8V225.5M372.0 216.5h3M375.5 220.4V233.2M374.0 225.5h3M377.5 227.6V244.0M376.0 231.5h3M379.5 238.6V252.8M378.0 245.5h3M380.5 242.5V257.0M379.0 256.5h3M382.5 247.1V262.5M381.0 248.5h3M384.5 254.0V268.0M383.0 255.5h3M386.5 250.4V263.1M385.0 254.5h3M388.5 244.7V257.0M387.0 248.5h3M390.5 234.1V255.7M389.0 250.5h3M391.5 218.8V239.0M390.0 234.5h3M393.5 211.0V226.1M392.0 211.5h3M395.5 202.2V217.9M394.0 217.5h3M397.5 194.9V212.2M396.0 203.5h3M399.5 203.4V217.3M398.0 214.5h3M401.5 214.0V226.5M400.0 218.5h3M402.5 206.4V223.2M401.0 208.5h3M404.5 203.1V217.1M403.0 204.5h3M406.5 199.5V213.1M405.0 213.5h3M408.5 206.9V219.8M407.0 208.5h3M410.5 215.6V229.5M409.0 222.5h3M412.5 221.2V232.4M411.0 229.5h3M413.5 227.5V234.1M412.0 228.5h3M415.5 217.4V229.5M414.0 222.5h3M417.5 204.5V220.2M416.0 208.5h3M419.5 197.4V213.0M418.0 202.5h3M421.5 201.0V214.0M420.0 204.5h3M423.5 206.9V220.0M422.0 208.5h3M424.5 205.1V217.3M423.0 216.5h3M426.5 196.4V208.7M425.0 199.5h3M428.5 197.5V210.0M427.0 202.5h3M430.5 201.9V210.3M429.0 208.5h3M432.5 202.6V211.5M431.0 208.5h3M434.5 202.5V211.0M433.0 204.5h3M435.5 206.9V217.3M434.0 209.5h3M437.5 206.2V217.9M436.0 208.5h3M439.5 210.1V219.8M438.0 215.5h3M441.5 219.0V228.0M440.0 224.5h3M443.5 228.4V240.3M442.0 237.5h3M445.5 237.2V247.4M444.0 247.5h3M446.5 241.5V249.3M445.0 245.5h3M448.5 240.1V248.4M447.0 242.5h3M450.5 238.2V247.1M449.0 246.5h3M452.5 237.4V247.0M451.0 246.5h3M454.5 233.0V244.2M453.0 239.5h3M456.5 234.7V244.4M455.0 241.5h3M457.5 240.1V248.4M456.0 242.5h3M459.5 246.2V254.7M458.0 250.5h3M461.5 248.8V257.4M460.0 250.5h3M463.5 250.4V259.6M462.0 251.5h3M465.5 256.4V267.3M464.0 263.5h3M467.5 260.6V269.6M466.0 263.5h3M468.5 254.3V264.5M467.0 256.5h3M470.5 249.2V259.0M469.0 253.5h3M472.5 249.4V259.7M471.0 259.5h3M474.5 250.5V261.2M473.0 251.5h3M476.5 252.5V263.7M475.0 259.5h3M478.5 250.4V261.2M477.0 257.5h3M479.5 244.8V252.6M478.0 248.5h3M481.5 244.7V253.2M480.0 247.5h3M483.5 247.9V255.6M482.0 249.5h3M485.5 251.2V259.3M484.0 255.5h3M487.5 252.0V260.4M486.0 252.5h3M489.5 246.3V254.9M488.0 253.5h3M490.5 245.6V253.6M489.0 249.5h3" stroke="#000" stroke-width="1" fill="none" shape-rendering="crispEdges"/>
<polyline points="150.3,84.7 178.3,85.0 199.7,85.0 207.7,84.0 213.0,84.0 221.0,85.7 225.0,87.0 240.0,88.8 250.0,92.5 262.5,98.0 275.0,102.5 287.5,107.0 300.0,110.8 312.5,115.0 325.0,121.2 337.5,131.0 350.0,142.5 362.5,155.0 375.0,167.5 387.5,180.0 392.5,185.0 400.0,189.5 410.0,197.0 420.0,204.5 430.0,210.0 440.0,216.2 450.0,221.2 460.0,225.0 470.0,228.8 480.0,231.2 491.0,234.5" fill="none" stroke="#800080" stroke-width="2.2" stroke-linejoin="round" shape-rendering="crispEdges"/>
<path d="M70 212.5h1M72 212.5h1M74 212.5h1M76 212.5h1M78 212.5h1M80 212.5h1M82 212.5h1M84 212.5h1M86 212.5h1M88 212.5h1M90 213.5h1M92 213.5h1M94 213.5h1M96 213.5h1M98 213.5h1M100 213.5h1M102 213.5h1M104 213.5h1M106 213.5h1M108 213.5h1M110 212.5h1M112 212.5h1M114 211.5h1M116 211.5h1M118 210.5h1M120 210.5h1M122 209.5h1M124 209.5h1M126 208.5h1M128 207.5h1M130 207.5h1M132 207.5h1M134 207.5h1M136 206.5h1M138 206.5h1M140 206.5h1M142 206.5h1M144 207.5h1M146 207.5h1M148 207.5h1M150 208.5h1M152 209.5h1M154 210.5h1M156 210.5h1M158 211.5h1M160 212.5h1M162 213.5h1M164 214.5h1M166 215.5h1M168 216.5h1M170 217.5h1M172 218.5h1M174 219.5h1M176 220.5h1M178 221.5h1M180 222.5h1M182 222.5h1M184 223.5h1M186 223.5h1M188 224.5h1M190 225.5h1M192 225.5h1M194 226.5h1M196 226.5h1M198 227.5h1M200 228.5h1M202 229.5h1M204 230.5h1M206 231.5h1M208 232.5h1M210 233.5h1M212 234.5h1M214 234.5h1M216 235.5h1M218 236.5h1M220 237.5h1M222 237.5h1M224 238.5h1M226 238.5h1M228 239.5h1M230 239.5h1M232 239.5h1M234 239.5h1M236 239.5h1M238 239.5h1M240 240.5h1M242 240.5h1M244 240.5h1M246 241.5h1M248 241.5h1M250 242.5h1M252 242.5h1M254 243.5h1M256 243.5h1M258 244.5h1M260 245.5h1M262 246.5h1M264 247.5h1M266 248.5h1M268 249.5h1M270 250.5h1M272 251.5h1M274 252.5h1M276 252.5h1M278 253.5h1M280 254.5h1M282 255.5h1M284 256.5h1M286 256.5h1M288 257.5h1M290 258.5h1M292 258.5h1M294 258.5h1M296 258.5h1M298 259.5h1M300 259.5h1M302 259.5h1M304 259.5h1M306 260.5h1M308 260.5h1M310 260.5h1M312 261.5h1M314 261.5h1M316 262.5h1M318 262.5h1M320 263.5h1M322 264.5h1M324 264.5h1M326 265.5h1M328 266.5h1M330 267.5h1M332 268.5h1M334 269.5h1M336 270.5h1M338 271.5h1M340 272.5h1M342 273.5h1M344 274.5h1M346 275.5h1M348 276.5h1M350 277.5h1M352 278.5h1M354 280.5h1M356 281.5h1M358 282.5h1M360 284.5h1M362 285.5h1M364 286.5h1M366 287.5h1M368 288.5h1M370 290.5h1M372 291.5h1M374 291.5h1M376 292.5h1M378 293.5h1M380 294.5h1M382 294.5h1M384 294.5h1M386 294.5h1M388 294.5h1M390 294.5h1M392 293.5h1M394 293.5h1M396 292.5h1M398 292.5h1M400 291.5h1M402 290.5h1M404 289.5h1M406 289.5h1M408 288.5h1M410 288.5h1M412 287.5h1M414 287.5h1M416 286.5h1M418 285.5h1M420 285.5h1M422 285.5h1M424 284.5h1M426 284.5h1M428 284.5h1M430 284.5h1M432 284.5h1M434 284.5h1M436 284.5h1M438 284.5h1M440 284.5h1M442 284.5h1M444 285.5h1M446 285.5h1M448 285.5h1M450 285.5h1M452 286.5h1M454 286.5h1M456 287.5h1M458 287.5h1M460 288.5h1M462 288.5h1M464 289.5h1M466 289.5h1M468 290.5h1M470 291.5h1M472 293.5h1M474 294.5h1M476 296.5h1M478 297.5h1M480 299.5h1M482 300.5h1M484 301.5h1M486 302.5h1M488 302.5h1M490 303.5h1" stroke="#ff0000" stroke-width="1" fill="none" shape-rendering="crispEdges"/>
<polyline points="34.2,218.8 37.5,210.0 40.0,209.5 45.0,215.5 50.0,213.0 53.8,209.5 57.5,212.0 62.5,209.5 72.5,209.0 76.2,213.8 82.5,213.8 87.5,215.8 95.0,215.0 100.0,212.0 106.2,208.0 110.0,208.8 113.8,205.5 120.0,205.0 125.0,202.5 128.0,203.0 131.2,207.0 137.5,208.0 142.5,211.2 146.2,217.0 152.5,218.0 156.2,222.0 162.5,222.0 165.0,223.0 168.8,220.0 171.2,220.5 175.0,226.2 178.8,232.0 183.8,231.2 187.5,229.5 191.2,230.8 196.2,231.2 200.0,234.5 205.0,236.2 212.5,243.8 217.5,242.5 220.0,245.5 225.0,245.5 230.0,240.0 234.5,235.8 240.0,237.5 245.0,242.5 252.5,250.0 256.2,250.0 262.5,256.2 267.5,258.8 273.8,265.5 278.8,261.8 283.8,261.8 288.8,258.8 293.8,258.0 298.8,262.5 305.0,266.2 311.2,261.2 315.0,262.5 320.0,268.8 325.0,272.5 330.0,276.2 335.0,280.0 340.0,285.0 343.8,283.8 346.2,287.5 350.0,286.2 355.0,291.2 358.8,296.2 362.0,293.5 364.0,292.0 368.0,289.0 372.0,291.0 376.0,294.0 380.0,297.0 385.0,298.0 390.0,295.0 394.0,288.0 397.0,283.0 400.0,286.0 403.0,285.0 407.0,283.0 411.0,287.0 415.0,287.0 419.0,285.0 423.0,286.0 428.0,283.0 432.0,281.0 436.0,283.0 440.0,285.0 444.0,291.0 448.0,293.0 452.0,292.0 456.0,295.0 460.0,296.0 464.0,298.0 467.0,302.0 470.0,300.0 474.0,302.0 478.0,301.0 482.0,303.0 486.0,306.0 489.0,305.0 491.5,303.5" fill="none" stroke="#0000ff" stroke-width="2.5" stroke-linejoin="round" shape-rendering="crispEdges"/>
<line x1="72.5" y1="439" x2="72.5" y2="458" stroke="#0000ff" stroke-width="1" shape-rendering="crispEdges"/>
<line x1="107.5" y1="439" x2="107.5" y2="458" stroke="#0000ff" stroke-width="1" shape-rendering="crispEdges"/>
<line x1="145.5" y1="439" x2="145.5" y2="458" stroke="#0000ff" stroke-width="1" shape-rendering="crispEdges"/>
<line x1="184.5" y1="439" x2="184.5" y2="458" stroke="#0000ff" stroke-width="1" shape-rendering="crispEdges"/>
<line x1="224.5" y1="439" x2="224.5" y2="458" stroke="#0000ff" stroke-width="1" shape-rendering="crispEdges"/>
<line x1="261.5" y1="439" x2="261.5" y2="458" stroke="#0000ff" stroke-width="1" shape-rendering="crispEdges"/>
<line x1="301.5" y1="439" x2="301.5" y2="458" stroke="#0000ff" stroke-width="1" shape-rendering="crispEdges"/>
<line x1="341.5" y1="439" x2="341.5" y2="458" stroke="#0000ff" stroke-width="1" shape-rendering="crispEdges"/>
<line x1="378.5" y1="439" x2="378.5" y2="458" stroke="#0000ff" stroke-width="1" shape-rendering="crispEdges"/>
<line x1="420.5" y1="439" x2="420.5" y2="458" stroke="#0000ff" stroke-width="1" shape-rendering="crispEdges"/>
<line x1="457.5" y1="439" x2="457.5" y2="458" stroke="#0000ff" stroke-width="1" shape-rendering="crispEdges"/>
<path d="M233.5 47.0V72.0M230.5 65.0L233.5 72.0L236.5 65.0" stroke="#ff0000" stroke-width="1" fill="none"/>
<path d="M237.5 57.0V72.0M234.5 65.0L237.5 72.0L240.5 65.0" stroke="#ff0000" stroke-width="1" fill="none"/>
<path d="M239.5 57.0V72.0M236.5 65.0L239.5 72.0L242.5 65.0" stroke="#ff0000" stroke-width="1" fill="none"/>
<path d="M241.5 57.0V72.0M238.5 65.0L241.5 72.0L244.5 65.0" stroke="#ff0000" stroke-width="1" fill="none"/>
<path d="M310.5 88.0V107.5M306.1 102.5L310.5 107.5L314.9 102.5" stroke="#ff0000" stroke-width="1" fill="none"/>
<path d="M332.5 100.0V107.6M329.5 104.1L332.5 107.6L335.5 104.1" stroke="#000" stroke-width="1" fill="none"/>
<path d="M209.5 135.0V149.0M206.5 140.0L209.5 135.0L212.5 140.0" stroke="#0000ff" stroke-width="1" fill="none"/>
<path d="M403.5 166.0V184.7M399.5 181.2L403.5 184.7L407.5 181.2" stroke="#ff0000" stroke-width="1" fill="none"/>
<path d="M405.5 166.0V184.7M401.5 181.2L405.5 184.7L409.5 181.2" stroke="#ff0000" stroke-width="1" fill="none"/>
<path d="M407.5 166.0V184.7M403.5 181.2L407.5 184.7L411.5 181.2" stroke="#ff0000" stroke-width="1" fill="none"/>
<path d="M378.5 279.0V293.0M374.5 284.0L378.5 279.0L382.5 284.0" stroke="#ff0000" stroke-width="1" fill="none"/>
<path d="M387.5 297.0V309.0M383.5 302.0L387.5 297.0L391.5 302.0" stroke="#ff0000" stroke-width="1" fill="none"/>
<path d="M396.5 282.0V311.0M392.5 287.0L396.5 282.0L400.5 287.0" stroke="#0000ff" stroke-width="1" fill="none"/>
<path d="M455.5 295.0V324.0M451.5 300.0L455.5 295.0L459.5 300.0" stroke="#ff0000" stroke-width="1" fill="none"/>
<path d="M469.5 281.0V296.0M465.5 286.0L469.5 281.0L473.5 286.0" stroke="#ff0000" stroke-width="1" fill="none"/>
<path d="M478.5 300.0V326.0M474.5 305.0L478.5 300.0L482.5 305.0" stroke="#ff0000" stroke-width="1" fill="none"/>
<path d="M374 323H386" stroke="#ff0000" stroke-width="3.6" fill="none"/><path d="M380.5 323V337" stroke="#ff0000" stroke-width="3.6" fill="none"/><path d="M376.5 325V338M383.5 325V338" stroke="#ff0000" stroke-width="1" fill="none"/>
<path d="M457 326.5H480M455 332H480" stroke="#ff0000" stroke-width="3.5" fill="none"/>
<rect x="0" y="266.5" width="33" height="12" fill="#fff"/>
<text y="12.5" class="b"><tspan x="33.0" textLength="40.7" lengthAdjust="spacingAndGlyphs">L=5/20</tspan> <tspan x="82.3" textLength="37.7" lengthAdjust="spacingAndGlyphs">812.42</tspan> <tspan x="128.6" textLength="63.0" lengthAdjust="spacingAndGlyphs">la/ma=.964</tspan> <tspan x="197.6" textLength="94.0" lengthAdjust="spacingAndGlyphs">21dma.roc=-.752</tspan> <tspan x="296.0" textLength="14.0" lengthAdjust="spacingAndGlyphs">P=</tspan> <tspan x="315.3" textLength="24.0" lengthAdjust="spacingAndGlyphs">-310</tspan> <tspan x="344.0" textLength="54.7" lengthAdjust="spacingAndGlyphs">Pchange=</tspan> <tspan x="409.6" textLength="10.5" lengthAdjust="spacingAndGlyphs">15</tspan> <tspan x="425.5" textLength="62.0" lengthAdjust="spacingAndGlyphs">IP21=-.098</tspan> <tspan x="492.5" textLength="25.5" lengthAdjust="spacingAndGlyphs">V=-4</tspan> <tspan x="523.3" textLength="51.2" lengthAdjust="spacingAndGlyphs">OP=-.264</tspan> <tspan x="580.0" textLength="67.0" lengthAdjust="spacingAndGlyphs">65d-up-pct=</tspan> <tspan x="652.7" textLength="21.6" lengthAdjust="spacingAndGlyphs">.003</tspan></text>
<text y="27.0" class="b"><tspan x="10.0" textLength="45.3" lengthAdjust="spacingAndGlyphs">DJIA-30</tspan> <tspan x="63.0" textLength="168.3" lengthAdjust="spacingAndGlyphs">Dow Jones Industrial Average</tspan> <tspan x="244.3" textLength="41.7" lengthAdjust="spacingAndGlyphs">(C)2016</tspan> <tspan x="291.7" textLength="103.6" lengthAdjust="spacingAndGlyphs">www.tigersoft.com</tspan></text>
<text y="42.0" class="b"><tspan x="37.2" textLength="10.0" lengthAdjust="spacingAndGlyphs">1/</tspan> <tspan x="53.6" textLength="10.5" lengthAdjust="spacingAndGlyphs">2/</tspan> <tspan x="71.7" textLength="31.6" lengthAdjust="spacingAndGlyphs">1974-</tspan> <tspan x="109.0" textLength="17.0" lengthAdjust="spacingAndGlyphs">12/</tspan> <tspan x="132.0" textLength="17.0" lengthAdjust="spacingAndGlyphs">27/</tspan> <tspan x="156.5" textLength="27.3" lengthAdjust="spacingAndGlyphs">1974</tspan></text>
<text x="5.5" y="58.8" class="b" textLength="20.0" lengthAdjust="spacingAndGlyphs" xml:space="preserve">900</text>
<text x="5.5" y="75.8" class="b" textLength="20.0" lengthAdjust="spacingAndGlyphs" xml:space="preserve">875</text>
<text x="5.5" y="91.8" class="b" textLength="20.0" lengthAdjust="spacingAndGlyphs" xml:space="preserve">850</text>
<text x="5.5" y="108.8" class="b" textLength="20.0" lengthAdjust="spacingAndGlyphs" xml:space="preserve">825</text>
<text x="5.5" y="124.8" class="b" textLength="20.0" lengthAdjust="spacingAndGlyphs" xml:space="preserve">800</text>
<text x="5.5" y="141.8" class="b" textLength="20.0" lengthAdjust="spacingAndGlyphs" xml:space="preserve">775</text>
<text x="5.5" y="157.8" class="b" textLength="20.0" lengthAdjust="spacingAndGlyphs" xml:space="preserve">750</text>
<text x="5.5" y="174.8" class="b" textLength="20.0" lengthAdjust="spacingAndGlyphs" xml:space="preserve">725</text>
<text x="5.5" y="190.8" class="b" textLength="20.0" lengthAdjust="spacingAndGlyphs" xml:space="preserve">700</text>
<text x="5.5" y="207.8" class="b" textLength="20.0" lengthAdjust="spacingAndGlyphs" xml:space="preserve">675</text>
<text x="5.5" y="223.8" class="b" textLength="20.0" lengthAdjust="spacingAndGlyphs" xml:space="preserve">650</text>
<text x="5.5" y="240.8" class="b" textLength="20.0" lengthAdjust="spacingAndGlyphs" xml:space="preserve">625</text>
<text x="5.5" y="256.8" class="b" textLength="20.0" lengthAdjust="spacingAndGlyphs" xml:space="preserve">600</text>
<g clip-path="url(#c)"><text x="5.5" y="274.0" class="b" textLength="20.0" lengthAdjust="spacingAndGlyphs" xml:space="preserve">575</text></g>
<text x="549.5" y="53.5" class="b" textLength="113.5" lengthAdjust="spacingAndGlyphs" xml:space="preserve">Year's Gain= -29.6%</text>
<text x="549.5" y="66.0" class="b" textLength="116.0" lengthAdjust="spacingAndGlyphs" xml:space="preserve">% of days up= 43.2%</text>
<text x="549.5" y="106.5" class="b" textLength="107.0" lengthAdjust="spacingAndGlyphs" xml:space="preserve">65-day gain= -7.4%</text>
<text x="531.0" y="124.5" class="b" textLength="203.0" lengthAdjust="spacingAndGlyphs" xml:space="preserve">5dma= 599 21dma= 597 65dma=626</text>
<text x="531.0" y="139.0" class="b" textLength="244.5" lengthAdjust="spacingAndGlyphs" xml:space="preserve">Falling 5-dma falling 21-dma falling 65-dma</text>
<text x="531.0" y="154.6" class="b" textLength="211.0" lengthAdjust="spacingAndGlyphs" xml:space="preserve">5dmaAROC=-18.9 %  PivotP= 598.48</text>
<text x="527.0" y="279.5" class="b" textLength="87.0" lengthAdjust="spacingAndGlyphs" xml:space="preserve">NYSE A/D Line</text>
<text x="2.0" y="309.0" class="b" textLength="60.5" lengthAdjust="spacingAndGlyphs" xml:space="preserve">P-Indicator</text>
<text x="2.0" y="371.5" class="b" textLength="37.0" lengthAdjust="spacingAndGlyphs" xml:space="preserve">Accum</text>
<text x="47.5" y="371.5" class="b" textLength="23.0" lengthAdjust="spacingAndGlyphs" xml:space="preserve">+.25</text>
<text x="2.0" y="385.5" class="b" textLength="30.0" lengthAdjust="spacingAndGlyphs" xml:space="preserve">Index</text>
<text x="2.0" y="399.5" class="b" textLength="62.5" lengthAdjust="spacingAndGlyphs" xml:space="preserve">AI= 24/200</text>
<text x="47.0" y="432.0" class="b" textLength="20.5" lengthAdjust="spacingAndGlyphs" xml:space="preserve">-.25</text>
<text x="83.8" y="454.0" class="b" textLength="20.0" lengthAdjust="spacingAndGlyphs" xml:space="preserve">Feb</text>
<text x="118.8" y="454.0" class="b" textLength="20.0" lengthAdjust="spacingAndGlyphs" xml:space="preserve">Mar</text>
<text x="156.2" y="454.0" class="b" textLength="19.0" lengthAdjust="spacingAndGlyphs" xml:space="preserve">Apr</text>
<text x="194.0" y="454.0" class="b" textLength="22.0" lengthAdjust="spacingAndGlyphs" xml:space="preserve">May</text>
<text x="234.0" y="454.0" class="b" textLength="19.0" lengthAdjust="spacingAndGlyphs" xml:space="preserve">Jun</text>
<text x="272.0" y="454.0" class="b" textLength="15.0" lengthAdjust="spacingAndGlyphs" xml:space="preserve">Jul</text>
<text x="312.0" y="454.0" class="b" textLength="21.0" lengthAdjust="spacingAndGlyphs" xml:space="preserve">Aug</text>
<text x="351.0" y="454.0" class="b" textLength="21.0" lengthAdjust="spacingAndGlyphs" xml:space="preserve">Sep</text>
<text x="390.0" y="454.0" class="b" textLength="19.0" lengthAdjust="spacingAndGlyphs" xml:space="preserve">Oct</text>
<text x="432.0" y="454.0" class="b" textLength="22.0" lengthAdjust="spacingAndGlyphs" xml:space="preserve">Nov</text>
<text x="468.0" y="454.0" class="b" textLength="22.0" lengthAdjust="spacingAndGlyphs" xml:space="preserve">Dec</text>
<text x="226.0" y="52.5" class="s" xml:space="preserve">S9</text>
<text x="238.9" y="59.3" class="s" xml:space="preserve">S12</text>
<text x="316.0" y="100.5" class="s" xml:space="preserve">S12</text>
<text x="336.2" y="113.5" class="s" xml:space="preserve">S13</text>
<text x="215.0" y="154.5" class="s" xml:space="preserve">B3</text>
<text x="408.2" y="178.7" class="s" xml:space="preserve">S12</text>
<text x="382.3" y="298.3" class="s" xml:space="preserve">B16</text>
<text x="406.0" y="305.0" class="s" xml:space="preserve">B12</text>
<text x="390.8" y="316.5" class="s" xml:space="preserve">B19</text>
<text x="380.5" y="344.7" class="s" xml:space="preserve">B8</text>
<text x="383.5" y="344.7" class="s" xml:space="preserve">B8</text>
<text x="386.5" y="344.7" class="s" xml:space="preserve">B8</text>
<text x="474.2" y="300.3" class="s" xml:space="preserve">B16</text>
<text x="483.4" y="330.4" class="s" xml:space="preserve">B13</text>
<text x="455.2" y="337.5" class="s" xml:space="preserve">B7</text>
<text x="464.0" y="346.6" class="s" xml:space="preserve">B6</text>
</svg>
</body></html>
